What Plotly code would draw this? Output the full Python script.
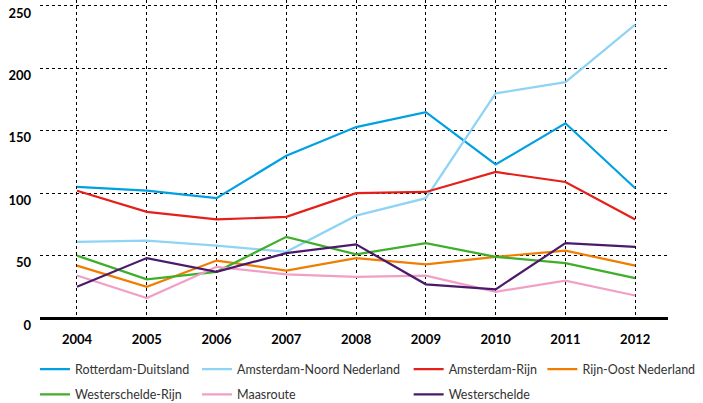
import plotly.graph_objects as go

years = [2004, 2005, 2006, 2007, 2008, 2009, 2010, 2011, 2012]

rotterdam_duitsland = [105, 102, 96, 130, 153, 165, 123, 156, 104]
amsterdam_noord_nl = [61, 62, 58, 53, 82, 96, 180, 189, 235]
amsterdam_rijn = [102, 85, 79, 81, 100, 101, 117, 109, 79]
rijn_oost_nl = [42, 25, 46, 38, 48, 43, 49, 54, 42]
westerschelde_rijn = [50, 31, 37, 65, 51, 60, 49, 44, 32]
maasroute = [34, 16, 41, 35, 33, 34, 21, 30, 18]
westerschelde = [25, 48, 37, 52, 59, 27, 23, 60, 57]

series = [
    ("Rotterdam-Duitsland", rotterdam_duitsland, "#00a0e1", "legend"),
    ("Amsterdam-Noord Nederland", amsterdam_noord_nl, "#8fd3f5", "legend2"),
    ("Amsterdam-Rijn", amsterdam_rijn, "#e3201b", "legend3"),
    ("Rijn-Oost Nederland", rijn_oost_nl, "#f07d00", "legend4"),
    ("Westerschelde-Rijn", westerschelde_rijn, "#3fae2a", "legend"),
    ("Maasroute", maasroute, "#f29fc5", "legend2"),
    ("Westerschelde", westerschelde, "#4b1a6b", "legend3"),
]

fig = go.Figure()
for name, vals, color, lg in series:
    fig.add_trace(go.Scatter(
        x=years, y=vals, name=name, mode="lines",
        line=dict(color=color, width=2.2),
        legend=lg, legendgroup=name,
    ))

leg = dict(
    orientation="v", xanchor="left", yanchor="top", y=-0.115,
    font=dict(family="Lato", size=12.5, color="#333"),
    bgcolor="rgba(0,0,0,0)", tracegroupgap=6, itemwidth=30,
)

fig.update_layout(
    width=703, height=403,
    margin=dict(l=40, r=35, t=0, b=85, autoexpand=False),
    plot_bgcolor="white", paper_bgcolor="white",
    font=dict(family="Lato", size=13, color="black"),
    legend=dict(leg, x=-0.008),
    legend2=dict(leg, x=0.25),
    legend3=dict(leg, x=0.587),
    legend4=dict(leg, x=0.80),
    xaxis=dict(
        range=[2003.47, 2012.47], tickvals=years,
        showgrid=True, gridcolor="black", griddash="dot", gridwidth=1,
        showline=False, zeroline=False, ticks="",
        ticklabelstandoff=12,
        tickfont=dict(family="Lato", size=13, color="black", weight="bold"),
    ),
    yaxis=dict(
        range=[0, 254.8], tickvals=[0, 50, 100, 150, 200, 250],
        showgrid=True, gridcolor="black", griddash="dot", gridwidth=1,
        zeroline=True, zerolinecolor="black", zerolinewidth=3,
        ticks="", ticklabelshift=7, ticklabelstandoff=8,
        ticklabeloverflow="allow",
        tickfont=dict(family="Lato", size=13, color="black", weight="bold"),
    ),
)

# page has a default 8px body margin; drop it so the figure fills the window
fig.write_html("out.html", config={"displayModeBar": False},
               post_script="document.body.style.margin='0';")
